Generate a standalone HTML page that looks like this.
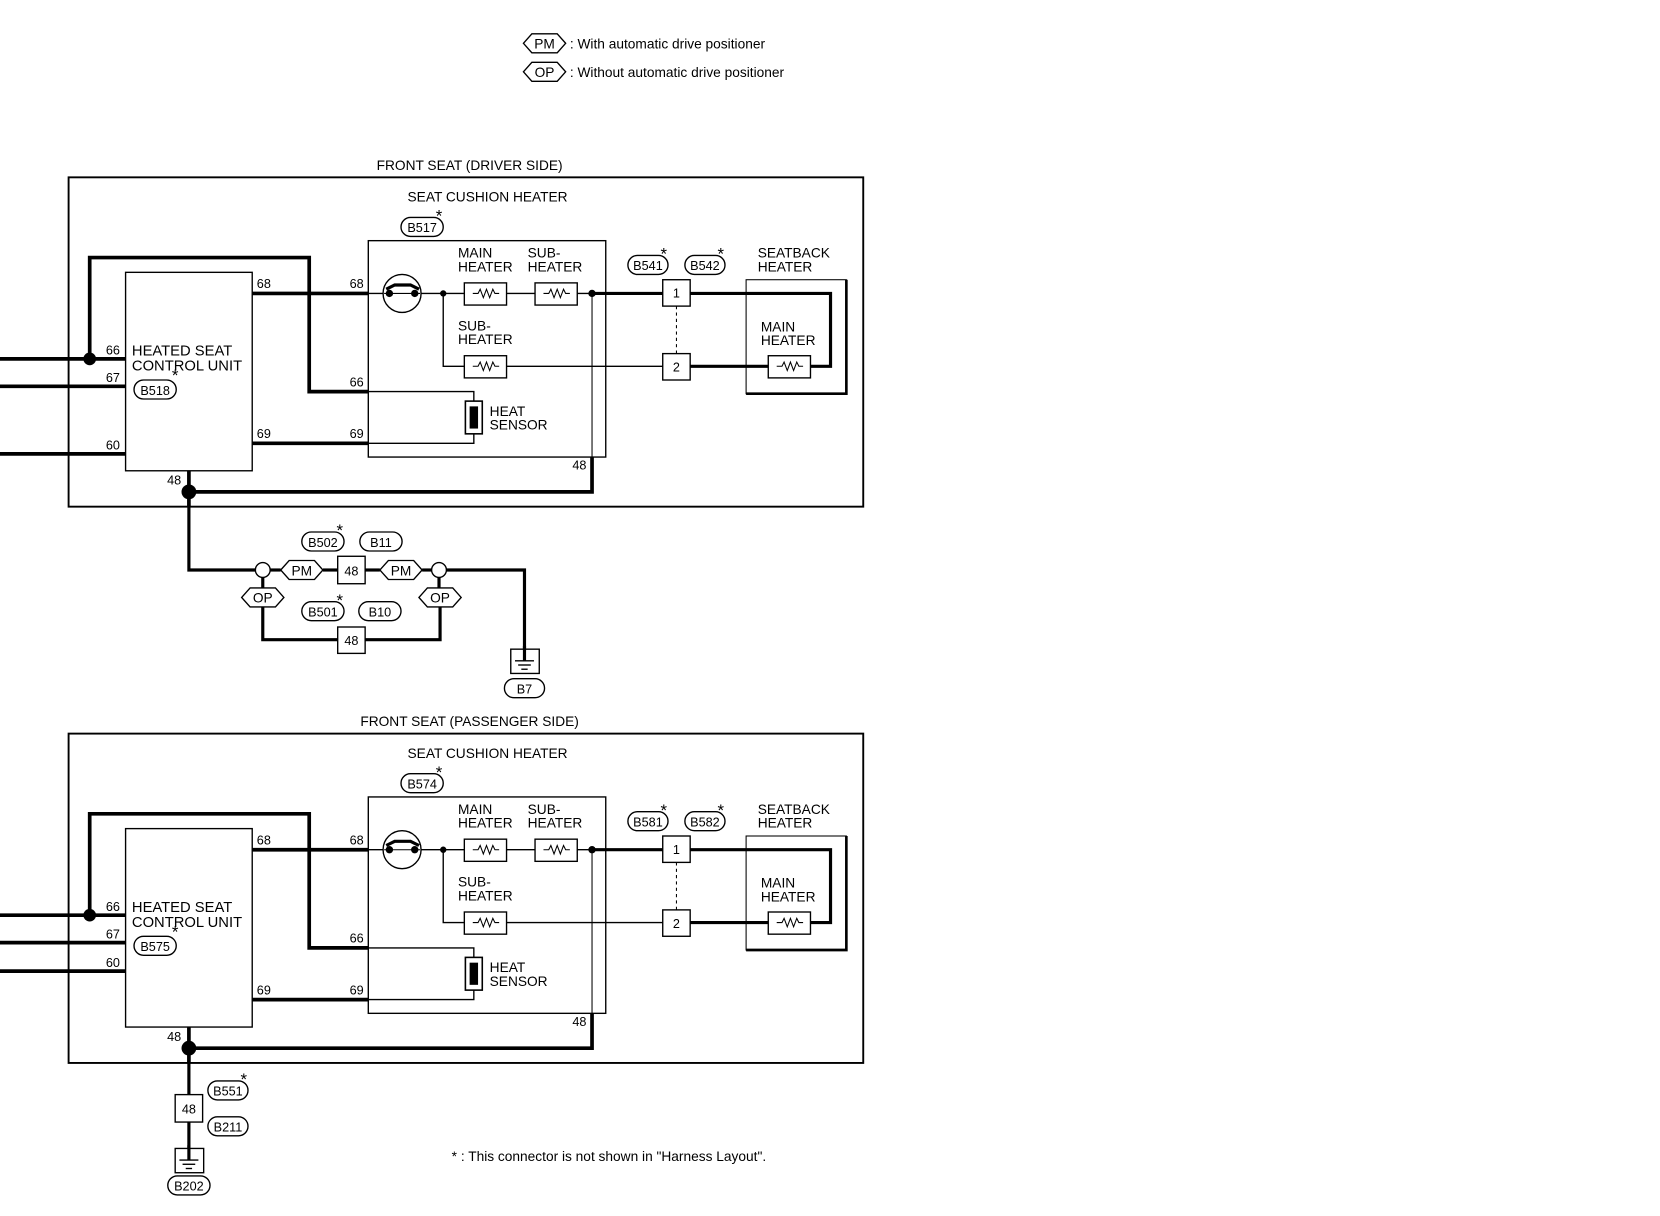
<!DOCTYPE html>
<html><head><meta charset="utf-8"><style>
html,body{margin:0;padding:0;background:#fff;}
svg{display:block;}
text{font-family:"Liberation Sans",sans-serif;fill:#000;}
</style></head><body>
<svg id="s" width="1660" height="1216" viewBox="0 0 1573 1152" preserveAspectRatio="none" xmlns="http://www.w3.org/2000/svg"></svg>
<script>
var h='';
function L(p,w){h+='<polyline points="'+p+'" fill="none" stroke="#000" stroke-width="'+(w||1.3)+'"/>';}
function R(x,y,w,hh,sw){h+='<rect x="'+x+'" y="'+y+'" width="'+w+'" height="'+hh+'" fill="#fff" stroke="#000" stroke-width="'+(sw||1.3)+'"/>';}
function T(x,y,t,fs,anc){h+='<text x="'+x+'" y="'+y+'" font-size="'+(fs||13)+'" text-anchor="'+(anc||'start')+'">'+t+'</text>';}
function D(x,y,r){h+='<circle cx="'+x+'" cy="'+y+'" r="'+r+'" fill="#000"/>';}
function C(x,y,r){h+='<circle cx="'+x+'" cy="'+y+'" r="'+r+'" fill="#fff" stroke="#000" stroke-width="1.3"/>';}
function P(x,y,t,w,star){w=w||36;h+='<rect x="'+(x-w/2)+'" y="'+(y-9)+'" width="'+w+'" height="18" rx="9" fill="#fff" stroke="#000" stroke-width="1.3"/>';T(x,y+5,t,12,'middle');if(star)T(x+w/2-4,y-5,'*',16,'middle');}
function H(x,y,t){var w=40;h+='<polygon points="'+(x-w/2)+','+y+' '+(x-w/2+8)+','+(y-9)+' '+(x+w/2-8)+','+(y-9)+' '+(x+w/2)+','+y+' '+(x+w/2-8)+','+(y+9)+' '+(x-w/2+8)+','+(y+9)+'" fill="#fff" stroke="#000" stroke-width="1.3"/>';T(x,y+5,t,13,'middle');}
function RES(x,y){R(x,y-10,40,21);L((x+8)+','+y+' '+(x+13)+','+y+' '+(x+15)+','+(y-4)+' '+(x+18)+','+(y+4)+' '+(x+21)+','+(y-4)+' '+(x+24)+','+(y+4)+' '+(x+27)+','+(y-4)+' '+(x+29)+','+y+' '+(x+33)+','+y,1);}
function G(x,y){R(x-13,y,27,23);L(x+','+(y-3)+' '+x+','+(y+11),3);L((x-9)+','+(y+11)+' '+(x+9)+','+(y+11),1.3);L((x-6)+','+(y+15)+' '+(x+6)+','+(y+15),1.3);L((x-3)+','+(y+19)+' '+(x+3)+','+(y+19),1.3);}
// legend
H(516,41,'PM');T(540,46,': With automatic drive positioner',13);
H(516,68,'OP');T(540,73,': Without automatic drive positioner',13);
function sec(o,title,c1,c2,c3,c4,pas){
 var y=function(v){return v+o;};
 T(445,y(161),title,13,'middle');
 R(65,y(168),753,312,1.8);
 T(462,y(191),'SEAT CUSHION HEATER',13,'middle');
 P(400,y(215),c1,40,true);
 R(349,y(228),225,205);
 R(119,y(258),120,188);
 T(125,y(337),'HEATED SEAT',14);T(125,y(351),'CONTROL UNIT',14);
 P(147,y(369),c2,40);T(166,y(361),'*',16,'middle');
 // left wires
 var w66=340,w67=366,w60=430;
 if(pas){w66=340;w67=366;w60=393;}
 L('0,'+y(w66)+' 119,'+y(w66),3.5);L('0,'+y(w67)+' 119,'+y(w67),3.5);L('0,'+y(w60)+' 119,'+y(w60),3.5);
 D(85,y(w66),6);
 T(107,y(w66-4),'66',12,'middle');T(107,y(w67-4),'67',12,'middle');T(107,y(w60-4),'60',12,'middle');
 L('85,'+y(w66)+' 85,'+y(244)+' 293,'+y(244)+' 293,'+y(371)+' 349,'+y(371),3.5);
 L('349,'+y(371)+' 449,'+y(371)+' 449,'+y(380),1.3);
 h+='<rect x="441" y="'+y(380)+'" width="16" height="31" fill="#fff" stroke="#000" stroke-width="1.5"/><rect x="445" y="'+y(385)+'" width="8" height="21" fill="#000"/>';
 T(464,y(394),'HEAT',13);T(464,y(407),'SENSOR',13);
 L('239,'+y(420)+' 349,'+y(420),3.5);L('349,'+y(420)+' 449,'+y(420)+' 449,'+y(411),1.3);
 L('239,'+y(278)+' 349,'+y(278),3.5);
 T(250,y(273),'68',12,'middle');T(338,y(273),'68',12,'middle');T(338,y(366),'66',12,'middle');
 T(250,y(415),'69',12,'middle');T(338,y(415),'69',12,'middle');
 T(549,y(445),'48',12,'middle');
 // internal
 L('349,'+y(278)+' 628,'+y(278),1.3);
 C(381,y(278),18);
 L('364,'+y(278)+' 398,'+y(278),1);
 h+='<path d="M366 '+y(274)+' L374 '+y(270)+' L389 '+y(270)+' L397 '+y(274)+'" fill="none" stroke="#000" stroke-width="3"/>';
 D(369,y(278),3.5);D(393,y(278),3.5);
 D(420,y(278),3);D(561,y(278),3.5);
 RES(440,y(278));RES(507,y(278));
 T(434,y(244),'MAIN',13);T(434,y(257),'HEATER',13);T(500,y(244),'SUB-',13);T(500,y(257),'HEATER',13);
 L('420,'+y(278)+' 420,'+y(347)+' 628,'+y(347),1.3);
 RES(440,y(347));
 T(434,y(313),'SUB-',13);T(434,y(326),'HEATER',13);
 L('561,'+y(278)+' 561,'+y(433),1);
 L('561,'+y(278)+' 628,'+y(278),3);
 L('561,'+y(433)+' 561,'+y(466)+' 179,'+y(466),3.5);
 L('179,'+y(446)+' 179,'+y(480),3.5);
 D(179,y(466),7);T(165,y(459),'48',12,'middle');
 // connectors
 R(628,y(265),26,25);T(641,y(282),'1',12,'middle');
 R(628,y(335),26,25);T(641,y(352),'2',12,'middle');
 h+='<line x1="641" y1="'+y(290)+'" x2="641" y2="'+y(335)+'" stroke="#000" stroke-width="1" stroke-dasharray="3,3"/>';
 P(614,y(251),c3,38,true);P(668,y(251),c4,38,true);
 // seatback
 R(707,y(265),95,108,1);
 L('802,'+y(265)+' 802,'+y(373)+' 707,'+y(373),2.5);
 T(718,y(244),'SEATBACK',13);T(718,y(257),'HEATER',13);
 T(721,y(314),'MAIN',13);T(721,y(327),'HEATER',13);
 L('654,'+y(278)+' 787,'+y(278)+' 787,'+y(347)+' 768,'+y(347),3);
 L('654,'+y(347)+' 728,'+y(347),3);
 RES(728,y(347));
}
sec(0,'FRONT SEAT (DRIVER SIDE)','B517','B518','B541','B542',false);
sec(527,'FRONT SEAT (PASSENGER SIDE)','B574','B575','B581','B582',true);
// driver ground
L('179,480 179,540 242,540',3);
L('256,540 266,540',3);L('306,540 320,540',3);L('346,540 360,540',3);L('400,540 409,540',3);
L('423,540 497,540 497,615',3);
C(249,540,7);C(416,540,7);
H(286,540,'PM');R(320,527,26,26);T(333,545,'48',12,'middle');H(380,540,'PM');
L('249,547 249,557',3);L('416,547 416,557',3);
H(249,566,'OP');H(417,566,'OP');
L('249,575 249,606 320,606',3);L('346,606 417,606 417,575',3);
R(320,594,26,25);T(333,611,'48',12,'middle');
P(306,513,'B502',40,true);P(361,513,'B11',40);
P(306,579,'B501',40,true);P(360,579,'B10',40);
G(497,615);P(497,652,'B7',38);
// passenger ground
L('179,1007 179,1088',3);
R(166,1037,26,26);T(179,1055,'48',12,'middle');
G(179,1088);P(179,1123,'B202',40);
P(216,1033,'B551',38,true);P(216,1067,'B211',38);
T(428,1100,'* : This connector is not shown in "Harness Layout".',13);
document.getElementById('s').innerHTML=h;
</script>
</body></html>
